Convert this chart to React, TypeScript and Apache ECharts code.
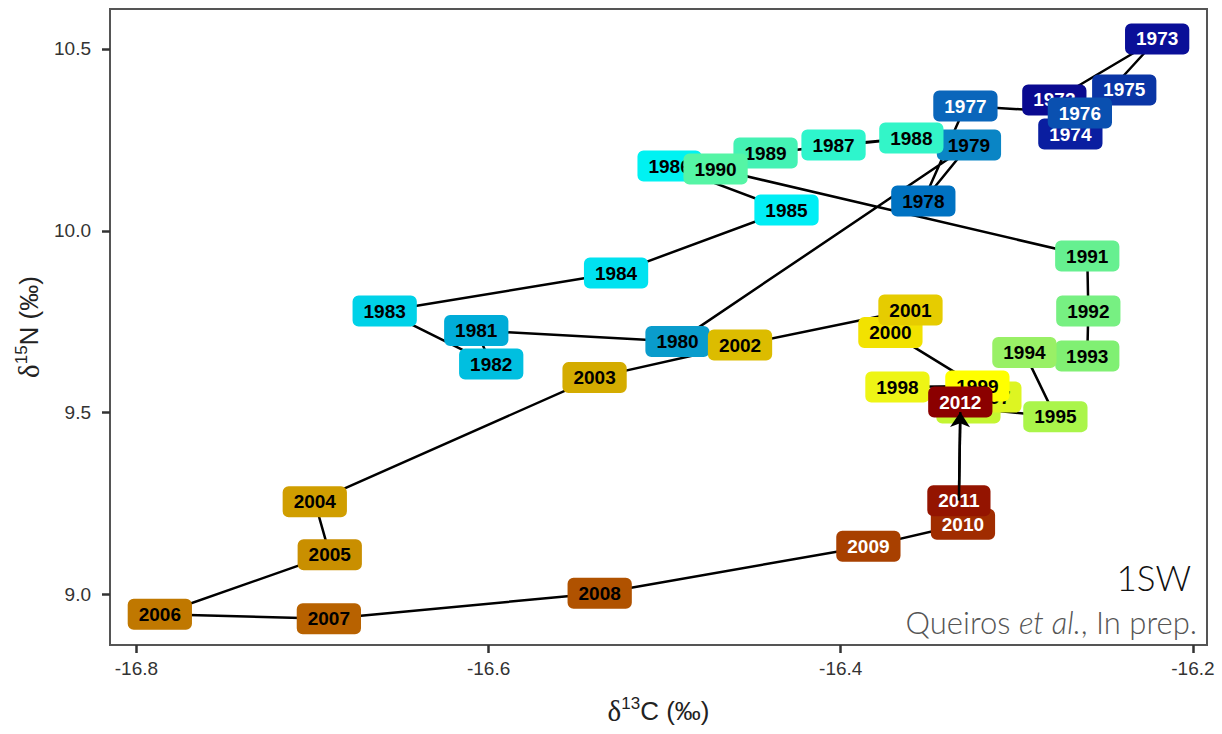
import React, { useEffect, useRef } from "react";
import * as echarts from "echarts";

const years = [
  "1972", "1973", "1974", "1975", "1976", "1977", "1978", "1979", "1980", "1981",
  "1982", "1983", "1984", "1985", "1986", "1987", "1988", "1989", "1990", "1991",
  "1992", "1993", "1994", "1995", "1996", "1997", "1998", "1999", "2000", "2001",
  "2002", "2003", "2004", "2005", "2006", "2007", "2008", "2009", "2010", "2011", "2012",
];

const d13C = [
  -16.2787, -16.2203, -16.2696, -16.239, -16.2642, -16.3292, -16.3531, -16.3272, -16.4927, -16.607,
  -16.5985, -16.659, -16.5276, -16.4308, -16.4972, -16.4041, -16.3599, -16.4427, -16.4711, -16.26,
  -16.2594, -16.26, -16.2957, -16.2781, -16.3275, -16.3156, -16.3678, -16.3224, -16.3718, -16.3604,
  -16.4572, -16.5398, -16.6987, -16.6902, -16.7867, -16.6907, -16.5369, -16.3843, -16.3306, -16.3329, -16.3321,
];

const d15N = [
  10.3597, 10.5275, 10.2661, 10.3872, 10.3239, 10.3431, 10.0817, 10.2358, 9.6951, 9.7254,
  9.6332, 9.779, 9.8836, 10.057, 10.178, 10.2358, 10.2551, 10.2138, 10.1698, 9.9304,
  9.779, 9.6552, 9.6648, 9.4887, 9.5121, 9.5424, 9.5699, 9.5727, 9.7199, 9.7818,
  9.6855, 9.596, 9.2548, 9.109, 8.9452, 8.9328, 9.003, 9.1324, 9.1929, 9.2576, 9.5011,
];

const boxColors = [
  "#0a0a90", "#0a0f98", "#0a1ea0", "#0a35a5", "#0a50b0", "#0a66bb", "#0072c2", "#0a85c5", "#0a9ccc", "#00acd8",
  "#00bfe0", "#00d2e8", "#00e2f0", "#00eef5", "#00f2f2", "#2ef5cc", "#33f5c8", "#44f2b4", "#55f5a5", "#66f090",
  "#77f082", "#80f073", "#99f066", "#aaf54a", "#c4f532", "#ddf522", "#eef515", "#ffff00", "#f2e200", "#e6cc00",
  "#dcbc00", "#d4ac00", "#d09e00", "#c98f00", "#c07800", "#b86200", "#b05200", "#a84000", "#a02c00", "#941400", "#8b0000",
];

const whiteTextYears = ["1972", "1973", "1974", "1975", "1976", "1977", "2009", "2010", "2011", "2012"];

const xTicks = [-16.8, -16.6, -16.4, -16.2];
const yTicks = [9.0, 9.5, 10.0, 10.5];

export default function App() {
  const ref = useRef<HTMLDivElement>(null);

  useEffect(() => {
    if (!ref.current) return;
    const chart = echarts.init(ref.current, null, { renderer: "svg" });
    const path = years.map((_, i) => [d13C[i], d15N[i]]);
    const n = years.length;

    const labelData = years.map((y, i) => ({
      name: y,
      value: [d13C[i], d15N[i]],
      label: {
        backgroundColor: boxColors[i],
        color: whiteTextYears.includes(y) ? "#ffffff" : "#000000",
        offset: y === "2012" ? [0, -10] : [0, 0],
      },
    }));

    const axisNameRich = {
      d: { fontFamily: "Liberation Serif", fontSize: 29, color: "#222", lineHeight: 32 },
      s: { fontFamily: "Liberation Sans", fontSize: 17, color: "#222", verticalAlign: "top", lineHeight: 17 },
      t: { fontFamily: "Liberation Sans", fontSize: 26, color: "#222", lineHeight: 32 },
    };

    chart.setOption({
      animation: false,
      textStyle: { fontFamily: "Liberation Sans" },
      grid: {
        left: 110,
        top: 9,
        right: 15,
        bottom: 89,
        show: true,
        borderColor: "#555",
        borderWidth: 2,
        backgroundColor: "transparent",
      },
      xAxis: {
        type: "value",
        min: -16.815,
        max: -16.192,
        axisLine: { show: false, onZero: false },
        axisTick: { show: true, customValues: xTicks, length: 8, lineStyle: { color: "#333", width: 2.5 } },
        axisLabel: {
          customValues: xTicks,
          formatter: (v: number) => v.toFixed(1),
          fontSize: 19,
          color: "#333",
          margin: 14,
        },
        splitLine: { show: false },
        name: "{d|δ}{s|13}{t|C (‰)}",
        nameLocation: "middle",
        nameGap: 50,
        nameTextStyle: { rich: axisNameRich },
      },
      yAxis: {
        type: "value",
        min: 8.8605,
        max: 10.61,
        axisLine: { show: false, onZero: false },
        axisTick: { show: true, customValues: yTicks, length: 8, lineStyle: { color: "#333", width: 2.5 } },
        axisLabel: {
          customValues: yTicks,
          formatter: (v: number) => v.toFixed(1),
          fontSize: 19,
          color: "#333",
          margin: 19,
        },
        splitLine: { show: false },
        name: "{d|δ}{s|15}{t|N (‰)}",
        nameLocation: "middle",
        nameGap: 58,
        nameTextStyle: { rich: axisNameRich },
      },
      series: [
        {
          type: "line",
          data: path,
          symbol: "none",
          z: 1,
          lineStyle: { color: "#000", width: 2.5 },
          silent: true,
          markLine: {
            silent: true,
            symbol: ["none", "arrow"],
            symbolSize: 15,
            label: { show: false },
            lineStyle: { color: "#000", width: 2.5, type: "solid" },
            data: [
              [
                { coord: [d13C[n - 2], d15N[n - 2]] },
                { coord: [d13C[n - 1], d15N[n - 1]] },
              ],
            ],
          },
        },
        {
          type: "scatter",
          data: labelData,
          symbolSize: 1,
          itemStyle: { color: "rgba(0,0,0,0)", opacity: 1 },
          z: 3,
          label: {
            show: true,
            position: "inside",
            formatter: "{b}",
            fontFamily: "Liberation Sans",
            fontWeight: "bold",
            fontSize: 19,
            lineHeight: 20,
            padding: [6, 11, 5, 11],
            borderRadius: 6,
            opacity: 1,
          },
        },
      ],
      graphic: [
        {
          type: "text",
          x: 1191,
          y: 577,
          z: 10,
          style: {
            text: "1SW",
            fontFamily: "Lato",
            fontWeight: 300,
            fontSize: 35,
            fill: "#111",
            align: "right",
            verticalAlign: "middle",
          },
        },
        {
          type: "text",
          x: 1197,
          y: 622,
          z: 10,
          style: {
            text: "Queiros {i|et al.}, In prep.",
            fontFamily: "Lato",
            fontWeight: 300,
            fontSize: 31,
            fill: "#555",
            align: "right",
            verticalAlign: "middle",
            rich: {
              i: { fontFamily: "Lato", fontWeight: 300, fontSize: 31, fontStyle: "italic", fill: "#555" },
            },
          },
        },
      ],
    });

    return () => chart.dispose();
  }, []);

  return (
    <div
      ref={ref}
      style={{ position: "fixed", left: 0, top: 0, width: 1222, height: 734, background: "#fff" }}
    />
  );
}
